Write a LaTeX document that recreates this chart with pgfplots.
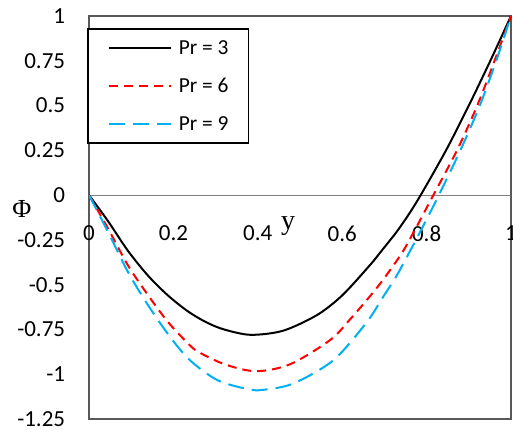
\documentclass[border=0pt]{standalone}
\usepackage{fontspec}
\setmainfont{Carlito}
\newfontfamily\tnr{Liberation Serif}
\usepackage{pgfplots}
\pgfplotsset{compat=1.18}
\definecolor{xlblue}{HTML}{00B0F0}
\begin{document}
\begin{tikzpicture}
\begin{axis}[
  scale only axis,
  width=211pt, height=201.5pt,
  xmin=0, xmax=1, ymin=-1.25, ymax=1,
  axis line style={black!65, line width=0.6pt},
  major tick length=0pt,
  xtick={0,0.2,0.4,0.6,0.8,1},
  xticklabels={0,0.2,0.4,0.6,0.8,1},
  ytick={-1.25,-1,-0.75,-0.5,-0.25,0,0.25,0.5,0.75,1},
  yticklabels={-1.25,-1,-0.75,-0.5,-0.25,0,0.25,0.5,0.75,1},
  ticklabel style={font=\fontsize{11.5}{13.8}\selectfont},
  yticklabel style={anchor=east, inner sep=0pt, xshift=-11.75pt},
  xticklabel style={anchor=center, inner sep=0pt, yshift=92.75pt},
  xlabel={\tnr y},
  xlabel style={at={(axis description cs:0.472,0.479)}, anchor=center, font=\fontsize{14}{16}\selectfont},
  ylabel={\tnr Φ},
  ylabel style={at={(axis description cs:-0.159,0.521)}, rotate=-90, anchor=center, font=\fontsize{13}{15}\selectfont},
  legend style={at={(axis description cs:-0.0047,0.970)}, anchor=north west,
    draw=black, line width=0.75pt, inner xsep=10pt, inner ysep=6pt,
    row sep=12pt, column sep=3.5pt,
    nodes={inner sep=0pt, text height=7pt, text depth=0pt},
    font=\fontsize{10.7}{12.8}\selectfont},
  legend cell align=left,
  legend image code/.code={\draw[#1] (0pt,0pt) -- (31pt,0pt);},
]
\coordinate (bl) at (rel axis cs:0,0);
\coordinate (tr) at (rel axis cs:1,1);
\addplot[gray, line width=0.6pt, forget plot] coordinates {(0,0) (1,0)};
\addplot[black, line width=1pt, smooth] coordinates {
(0,0) (0.045,-0.145) (0.092,-0.31) (0.14,-0.45) (0.187,-0.56) (0.235,-0.65)
(0.278,-0.71) (0.32,-0.75) (0.383,-0.78) (0.46,-0.757) (0.54,-0.67)
(0.60,-0.56) (0.666,-0.39) (0.697,-0.30) (0.729,-0.205) (0.757,-0.11)
(0.786,0) (0.846,0.25) (0.900,0.5) (0.951,0.75) (1,1)};
\addlegendentry{Pr = 3}
\addplot[red, line width=1pt, dash pattern=on 4.5pt off 3pt, smooth] coordinates {
(0,0) (0.045,-0.186) (0.092,-0.391) (0.14,-0.559) (0.187,-0.708) (0.235,-0.829)
(0.259,-0.875) (0.322,-0.945) (0.395,-0.983) (0.476,-0.945) (0.571,-0.81)
(0.62,-0.69) (0.678,-0.53) (0.713,-0.42) (0.745,-0.31) (0.78,-0.16)
(0.816,0) (0.872,0.25) (0.92,0.5) (0.961,0.75) (1,1)};
\addlegendentry{Pr = 6}
\addplot[xlblue, line width=1pt, dash pattern=on 8pt off 4pt, smooth] coordinates {
(0,0) (0.045,-0.205) (0.092,-0.428) (0.14,-0.615) (0.195,-0.801) (0.243,-0.93)
(0.306,-1.035) (0.378,-1.084) (0.413,-1.087) (0.484,-1.052) (0.579,-0.922)
(0.658,-0.71) (0.697,-0.568) (0.729,-0.45) (0.768,-0.28) (0.80,-0.135)
(0.829,0) (0.880,0.25) (0.926,0.5) (0.965,0.75) (1,1)};
\addlegendentry{Pr = 9}
\end{axis}
\pgfresetboundingbox
\path[use as bounding box] ([shift={(-44.5pt,-7.5pt)}]bl) rectangle ([shift={(1pt,8pt)}]tr);
\end{tikzpicture}
\end{document}
